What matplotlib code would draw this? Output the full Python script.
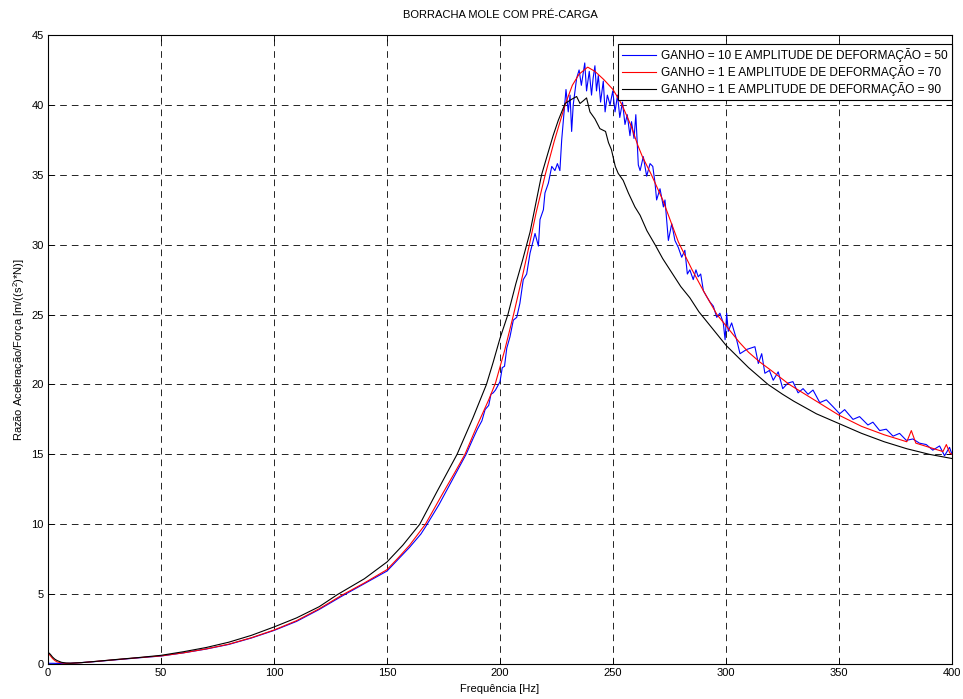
import numpy as np
import matplotlib.pyplot as plt

plt.rcParams['font.family'] = ['Liberation Sans', 'DejaVu Sans']
plt.rcParams['mathtext.default'] = 'regular'

# ganho 10, amplitude 50 (azul)
f_azul = [0, 2, 5, 10, 20, 30, 40, 50, 60, 70, 80, 90, 100, 110, 120, 130, 140, 150, 155, 160,
          165, 167, 170, 173, 175, 178, 180, 183, 185, 188, 190, 192, 193.4, 195, 196, 197, 198,
          200, 201, 202, 203, 204.4, 205.9, 207.4, 208.8, 210.3, 211.8, 213.3, 215.5, 217, 217.7,
          219.2, 219.9, 221.4, 222.9, 224.3, 225.4, 226.5, 227.3, 228, 229.2, 230.2, 231, 231.7,
          232.4, 233.9, 235, 236, 237.5, 238.3, 239.5, 240.5, 241.2, 242, 242.7, 243.5, 244.5,
          245.7, 246.5, 247.5, 248.7, 249.9, 250.9, 252, 253, 254.2, 255.3, 256.3, 257.5, 258.2,
          259.3, 260.1, 261.2, 262, 263.4, 264.9, 266.4, 267.6, 268.6, 269.3, 270.8, 272.3, 273,
          274.5, 276, 277.4, 278.9, 280.4, 281.8, 282.9, 284, 285.5, 286.7, 287.7, 288.8, 290,
          291.4, 292.9, 294.4, 295.9, 297.3, 298.8, 299.6, 300.3, 301, 302.5, 304.7, 306.2, 309.1,
          312.8, 314.3, 315.8, 317.2, 319.2, 320.9, 323.1, 325.1, 327.4, 329.6, 331.9, 334.1,
          336.3, 338.5, 341.5, 344.4, 347.4, 350.3, 352.5, 356.2, 359.1, 362.8, 365, 368, 370.9,
          373.9, 376.8, 379.8, 382.7, 385.6, 388.6, 391.5, 394.5, 396.7, 398.9, 400]
v_azul = [0.05, 0.05, 0.04, 0.05, 0.16, 0.3, 0.44, 0.57, 0.8, 1.07, 1.4, 1.86, 2.4, 3.05, 3.9,
          4.85, 5.75, 6.65, 7.5, 8.35, 9.3, 9.8, 10.6, 11.4, 12.0, 12.9, 13.5, 14.4, 15.0, 16.1,
          16.8, 17.4, 18.2, 18.5, 19.3, 19.4, 19.6, 20.2, 21.2, 21.3, 22.6, 23.4, 24.6, 24.8, 25.8,
          27.5, 27.9, 29.4, 30.8, 29.9, 31.8, 32.5, 33.7, 34.4, 35.6, 35.3, 35.8, 35.3, 37.5, 38.8,
          41.1, 39.5, 40.7, 38.1, 40.0, 41.9, 42.5, 41.4, 43.0, 41.0, 42.4, 40.7, 41.9, 42.8, 41.0,
          42.1, 40.2, 41.7, 39.5, 40.7, 40.0, 41.0, 39.5, 40.7, 39.1, 40.2, 38.6, 39.3, 37.8, 38.8,
          37.6, 39.3, 35.7, 35.3, 36.3, 34.9, 35.8, 35.6, 34.4, 33.2, 34.0, 32.7, 33.2, 30.3, 31.5,
          30.3, 29.8, 29.1, 29.6, 27.9, 28.2, 27.5, 28.2, 27.7, 27.9, 26.7, 26.3, 25.9, 25.6, 24.8,
          25.1, 24.4, 23.2, 25.1, 23.8, 24.4, 23.2, 22.2, 22.5, 22.7, 21.5, 22.2, 20.8, 21.0, 20.3,
          20.9, 19.7, 20.1, 20.2, 19.4, 19.7, 19.3, 19.6, 18.7, 18.9, 18.4, 17.9, 18.2, 17.5, 17.7,
          17.1, 17.3, 16.7, 16.8, 16.3, 16.5, 16.0, 16.1, 15.8, 15.7, 15.3, 15.6, 14.9, 15.5, 15.0]

# ganho 1, amplitude 70 (vermelho)
f_verm = [0, 1, 2, 3, 4, 6, 8, 10, 15, 20, 25, 30, 40, 50, 60, 70, 80, 90, 100, 110, 120, 130,
          140, 150, 155, 160, 167, 175, 180, 184.5, 190, 195, 198, 202, 206, 210, 213, 216, 220,
          224, 228.8, 232, 235, 238.8, 242, 246, 250, 254, 258, 261, 263, 267, 272, 278.9, 285,
          290, 296, 300, 306, 310, 315, 320, 328, 335, 340, 350, 360, 370, 380, 382, 384, 390,
          396, 397.5, 399, 400]
v_verm = [0.8, 0.6, 0.4, 0.25, 0.15, 0.08, 0.05, 0.05, 0.1, 0.17, 0.24, 0.31, 0.45, 0.58, 0.8,
          1.08, 1.42, 1.88, 2.43, 3.1, 3.95, 4.92, 5.8, 6.75, 7.6, 8.5, 10.0, 12.3, 13.7, 15.0,
          17.1, 18.9, 20.1, 22.4, 25.0, 27.8, 30.0, 32.3, 35.0, 37.4, 40.0, 41.4, 42.2, 42.7, 42.4,
          41.8, 41.1, 40.0, 38.5, 37.1, 36.3, 35.0, 33.2, 30.2, 28.2, 26.7, 25.0, 24.2, 23.0,
          22.3, 21.6, 21.0, 20.0, 19.3, 18.8, 17.8, 17.0, 16.4, 15.9, 16.7, 15.8, 15.5, 15.2,
          15.7, 15.1, 15.0]

# ganho 1, amplitude 90 (preto)
f_preto = [0, 1, 2, 3, 4, 6, 8, 10, 15, 20, 30, 40, 50, 60, 70, 80, 90, 100, 110, 120, 128, 140,
           150, 157, 164.5, 172, 181, 188, 194, 197, 200, 203.5, 207, 210, 213.3, 216.4, 218.4,
           221.3, 223.5, 225.8, 228.8, 231.7, 233.9, 235.4, 236.9, 238.3, 239.8, 242, 244.2,
           246.7, 248, 249.3, 251, 252.3, 254.5, 256.8, 259.7, 262, 265, 268.6, 272, 276, 280,
           284, 288, 292, 296, 300, 305, 310, 318.6, 325, 330, 340, 350, 360, 370, 380, 390, 400]
v_preto = [0.85, 0.7, 0.5, 0.35, 0.25, 0.12, 0.07, 0.06, 0.1, 0.17, 0.32, 0.46, 0.62, 0.88,
           1.18, 1.56, 2.05, 2.65, 3.3, 4.1, 4.96, 6.1, 7.3, 8.5, 10.0, 12.3, 15.0, 17.6, 20.0,
           21.6, 23.3, 25.0, 27.2, 28.9, 30.9, 33.4, 35.0, 36.6, 37.8, 38.9, 40.1, 40.4, 40.6,
           40.1, 40.3, 40.5, 39.5, 39.0, 38.3, 38.1, 37.3, 36.8, 35.6, 35.1, 34.6, 33.7, 32.7,
           32.1, 31.0, 30.0, 29.0, 28.0, 27.0, 26.2, 25.2, 24.4, 23.6, 22.8, 22.0, 21.2, 20.0,
           19.3, 18.8, 17.9, 17.2, 16.5, 15.9, 15.4, 15.0, 14.7]

legendas = ['GANHO = 10 E AMPLITUDE DE DEFORMAÇÃO = 50',
            'GANHO = 1 E AMPLITUDE DE DEFORMAÇÃO = 70',
            'GANHO = 1 E AMPLITUDE DE DEFORMAÇÃO = 90']

fig = plt.figure(figsize=(9.63, 6.99), dpi=100)
ax = fig.add_axes([48/963, 35/699, 904/963, 629/699])

ax.plot(f_azul, v_azul, color='#0000ff', lw=0.8, label=legendas[0])
ax.plot(f_verm, v_verm, color='#ff0000', lw=0.8, label=legendas[1])
ax.plot(f_preto, v_preto, color='k', lw=0.8, label=legendas[2])

ax.set_xlim(0, 400)
ax.set_ylim(0, 45)
ax.set_xticks(np.arange(0, 401, 50))
ax.set_yticks(np.arange(0, 46, 5))
ax.grid(True, color='k', lw=0.6, linestyle=(0, (8, 6)))
ax.tick_params(direction='in', top=True, right=True, length=4, width=0.6, labelsize=8, pad=3)
for s in ax.spines.values():
    s.set_linewidth(0.8)

ax.set_title('BORRACHA MOLE COM PRÉ-CARGA', fontsize=8, pad=12)
ax.set_xlabel('Frequência [Hz]', fontsize=8, labelpad=4)
ax.set_ylabel('Razão Aceleração/Força [m/((s$^2$)*N)]', fontsize=8, labelpad=3)

leg = ax.legend(loc='upper right', bbox_to_anchor=(1.0, 1 - 9/629), borderaxespad=0,
                fontsize=8.6, fancybox=False, framealpha=1, edgecolor='k',
                handlelength=2.9, handletextpad=0.4, borderpad=0.35, labelspacing=0.25)
leg.get_frame().set_linewidth(0.8)

plt.savefig('out.png', dpi=100)
